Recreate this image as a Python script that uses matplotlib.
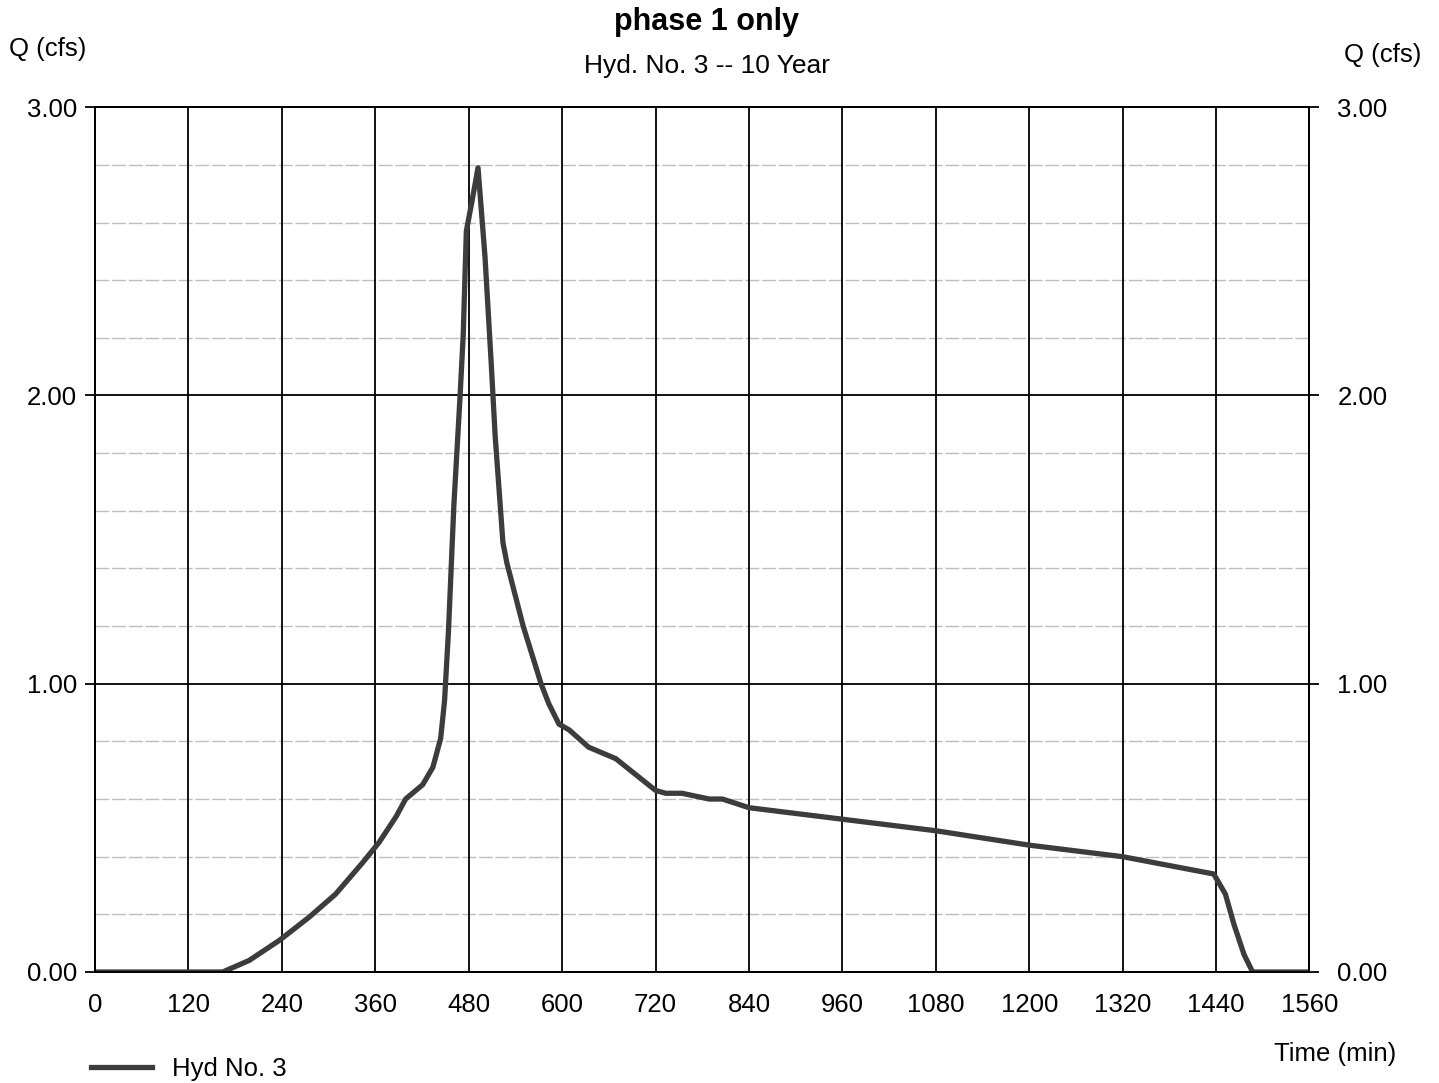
import numpy as np
import matplotlib
matplotlib.use('Agg')
import matplotlib.pyplot as plt

plt.rcParams['font.family'] = ['Liberation Sans', 'DejaVu Sans']

# hydrograph
time_min = [0, 120, 164, 198, 237, 275, 309, 344, 365, 387, 399, 421, 434, 444, 449,
            454, 461, 469, 473, 477, 484, 492, 501, 509, 514, 524, 529, 550, 573,
            583, 596, 609, 634, 669, 720, 733, 754, 789, 806, 840, 960, 1080, 1200,
            1320, 1437, 1452, 1463, 1476, 1487, 1560]
q_cfs = [0, 0, 0, 0.04, 0.11, 0.19, 0.27, 0.38, 0.45, 0.54, 0.60, 0.65, 0.71, 0.81, 0.94,
         1.18, 1.62, 2.00, 2.21, 2.57, 2.67, 2.79, 2.48, 2.11, 1.86, 1.49, 1.42, 1.20, 1.00,
         0.93, 0.86, 0.84, 0.78, 0.74, 0.63, 0.62, 0.62, 0.60, 0.60, 0.57, 0.53, 0.49, 0.44,
         0.40, 0.34, 0.27, 0.165, 0.06, 0, 0]

x_ticks = list(range(0, 1561, 120))
y_major = [0, 1, 2, 3]
y_minor = [0.2, 0.4, 0.6, 0.8, 1.2, 1.4, 1.6, 1.8, 2.2, 2.4, 2.6, 2.8]

fig = plt.figure(figsize=(14.39, 10.83), dpi=100)
ax = fig.add_axes([0.066, 0.1025, 0.844, 0.7985])

ax.set_xlim(0, 1560)
ax.set_ylim(0, 3)

for yv in y_minor:
    ax.axhline(yv, color='#bdbdbd', lw=1.0, ls=(0, (10, 2)), zorder=1)
for yv in y_major:
    ax.axhline(yv, color='black', lw=1.3, zorder=2)
for xv in x_ticks:
    ax.axvline(xv, color='black', lw=1.3, zorder=2)

ax.plot(time_min, q_cfs, color='#3c3c3c', lw=3.8, solid_joinstyle='round',
        zorder=3, label='Hyd No. 3')

ax.set_xticks(x_ticks)
ax.set_xticklabels([str(v) for v in x_ticks])
ax.set_yticks(y_major)
ax.set_yticklabels(['%.2f' % v for v in y_major])
ax.tick_params(axis='x', length=0, pad=15, labelsize=18.5)
ax.tick_params(axis='y', length=7, width=1.3, pad=6, labelsize=18.5)

ax2 = ax.twinx()
ax2.set_ylim(0, 3)
ax2.set_yticks(y_major)
ax2.set_yticklabels(['%.2f' % v for v in y_major])
ax2.tick_params(axis='y', length=7, width=1.3, pad=13, labelsize=18.5)

for a in (ax, ax2):
    for s in a.spines.values():
        s.set_linewidth(1.3)

fig.text(0.491, 0.98, 'phase 1 only', ha='center', va='center',
         fontsize=22, fontweight='bold')
fig.text(0.491, 0.939, 'Hyd. No. 3 -- 10 Year', ha='center', va='center', fontsize=19)
fig.text(0.006, 0.955, 'Q (cfs)', ha='left', va='center', fontsize=18.5)
fig.text(0.988, 0.949, 'Q (cfs)', ha='right', va='center', fontsize=18.5)
fig.text(0.97, 0.027, 'Time (min)', ha='right', va='center', fontsize=18.5)

ax.legend(loc='center left', bbox_to_anchor=(0.063, 0.013), bbox_transform=fig.transFigure,
          frameon=False, fontsize=18.5, handlelength=2.4, handletextpad=0.75,
          borderaxespad=0, borderpad=0)

fig.savefig('out.png', dpi=100)
